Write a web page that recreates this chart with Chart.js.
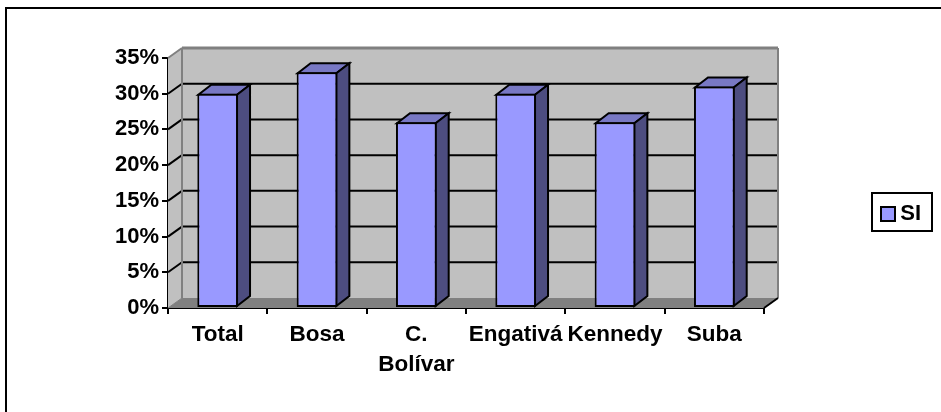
<!DOCTYPE html>
<html>
<head>
<meta charset="utf-8">
<style>html,body{margin:0;padding:0;background:#fff}canvas{display:block}</style>
<script src="https://cdn.jsdelivr.net/npm/chart.js@4"></script>
</head>
<body>
<canvas id="c" width="941" height="412"></canvas>
<script>
const categories = ['Total', 'Bosa', ['C.', 'Bolívar'], 'Engativá', 'Kennedy', 'Suba'];
const seriesName = 'SI';
const siValues = [30, 33, 26, 30, 26, 31];
const yMax = 35;
const yStep = 5;

const DX = 14, DY = 10;
const C = {wall:'#c0c0c0', floor:'#808080', edge:'#808080', front:'#9999ff', top:'#7878c4', side:'#4d4d80', ink:'#000'};
const FAMILY = '"Liberation Sans", Arial, sans-serif';
const FONT_X = {family:FAMILY, size:22.5, weight:'bold', lineHeight:1.33};
const FONT_Y = {family:FAMILY, size:22, weight:'bold'};
const LEGEND_BOX = {left:872, top:193, right:932, bottom:231};

function poly(ctx, pts, fill, stroke, lw){
  ctx.beginPath();
  pts.forEach((p,i)=> i?ctx.lineTo(p[0],p[1]):ctx.moveTo(p[0],p[1]));
  ctx.closePath();
  if(fill){ctx.fillStyle=fill;ctx.fill();}
  if(stroke){ctx.strokeStyle=stroke;ctx.lineWidth=lw;ctx.lineJoin='miter';ctx.stroke();}
}
function seg(ctx,x1,y1,x2,y2,col,lw){
  ctx.beginPath();ctx.moveTo(x1,y1);ctx.lineTo(x2,y2);ctx.strokeStyle=col;ctx.lineWidth=lw;ctx.stroke();
}

const frame3d = {
  id:'frame3d',
  afterLayout(chart){
    const l = chart.legend;
    l.left = 872; l.right = 921; l.top = 194; l.bottom = 231;
    l.width = l.right-l.left; l.height = l.bottom-l.top;
    l.adjustHitBoxes();
  },
  beforeDatasetsDraw(chart){
    const ctx = chart.ctx, a = chart.chartArea, ys = chart.scales.y;
    ctx.save();
    // outer frame: only the top and left edges show in the picture
    seg(ctx,6,8,941,8,C.ink,2);
    seg(ctx,6,7,6,412,C.ink,2);
    // walls and floor
    poly(ctx, [[a.left+DX,a.top-DY],[a.right+DX,a.top-DY],[a.right+DX,a.bottom-DY],[a.left+DX,a.bottom-DY]], C.wall);
    poly(ctx, [[a.left,a.top],[a.left+DX,a.top-DY],[a.left+DX,a.bottom-DY],[a.left,a.bottom]], C.wall);
    poly(ctx, [[a.left,a.bottom],[a.left+DX,a.bottom-DY],[a.right+DX,a.bottom-DY],[a.right,a.bottom]], C.floor);
    // gridlines from the value scale
    ys.ticks.forEach(t=>{
      if(t.value===0 || t.value===yMax) return;
      const y = ys.getPixelForValue(t.value);
      seg(ctx,a.left+DX,y-DY,a.right+DX,y-DY,C.ink,2);
      seg(ctx,a.left,y,a.left+DX,y-DY,C.ink,2);
    });
    // wall edges
    seg(ctx,a.left,a.top,a.left+DX,a.top-DY,C.edge,2);
    seg(ctx,a.left+DX,a.top-DY,a.right+DX,a.top-DY,C.edge,3);
    seg(ctx,a.right+DX,a.top-DY,a.right+DX,a.bottom-DY,C.edge,2);
    seg(ctx,a.left+DX,a.top-DY,a.left+DX,a.bottom-DY,C.edge,2);
    seg(ctx,a.left,a.bottom,a.left+DX,a.bottom-DY,C.edge,1);
    seg(ctx,a.right,a.bottom,a.right+DX,a.bottom-DY,C.ink,2);
    // bar depth faces
    chart.getDatasetMeta(0).data.forEach(b=>{
      const p = b.getProps(['x','y','base','width'],true);
      const L = p.x-p.width/2+1, R = p.x+p.width/2-1, T = p.y+1, B = p.base-1;
      poly(ctx, [[L,T],[L+DX-1,T-DY],[R+DX-1,T-DY],[R,T]], C.top, C.ink, 2);
      poly(ctx, [[R,T],[R+DX-1,T-DY],[R+DX-1,B-DY],[R,B]], C.side, C.ink, 2);
    });
    ctx.restore();
  },
  afterDraw(chart){
    const ctx = chart.ctx, b = LEGEND_BOX;
    ctx.save();
    ctx.strokeStyle=C.ink;ctx.lineWidth=2;
    ctx.strokeRect(b.left,b.top,b.right-b.left,b.bottom-b.top);
    ctx.restore();
  }
};

new Chart(document.getElementById('c'), {
  type:'bar',
  data:{labels:categories, datasets:[{
    label:seriesName, data:siValues,
    backgroundColor:C.front, borderColor:C.ink, borderWidth:2, borderSkipped:false,
    categoryPercentage:1, barPercentage:0.41
  }]},
  options:{
    responsive:false, animation:false, devicePixelRatio:1,
    layout:{padding:{left:0,top:58,right:177,bottom:0}},
    plugins:{
      tooltip:{enabled:false},
      legend:{display:true, position:'chartArea', align:'start',
        labels:{boxWidth:14, boxHeight:14, padding:9, color:'#000', font:FONT_Y, textAlign:'right'}}
    },
    scales:{
      x:{
        afterFit:s=>{s.height=104;},
        offset:true,
        grid:{offset:true, drawOnChartArea:false, drawTicks:true, tickLength:6, color:'#000', lineWidth:2},
        border:{display:true, color:'#000', width:2},
        ticks:{color:'#000', font:FONT_X, padding:6, maxRotation:0, autoSkip:false}
      },
      y:{
        afterFit:s=>{s.width=168;},
        min:0, max:yMax,
        grid:{drawOnChartArea:false, drawTicks:true, tickLength:6, color:'#000', lineWidth:2},
        border:{display:true, color:'#000', width:2},
        ticks:{stepSize:yStep, color:'#000', font:FONT_Y, padding:3, callback:v=>v+'%'}
      }
    }
  },
  plugins:[frame3d]
});
</script>
</body>
</html>
